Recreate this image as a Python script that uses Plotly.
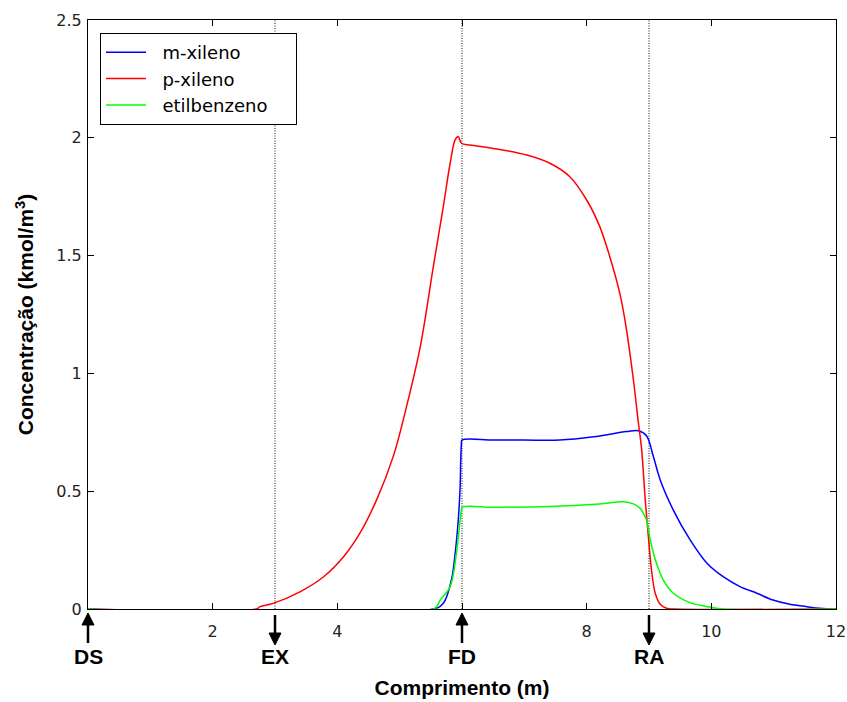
import plotly.graph_objects as go

# ---- data ----
m_x = [0, 5.54, 5.70, 5.83, 5.89, 5.94, 5.97, 5.98, 5.99, 6.0, 6.5, 7.0, 7.57, 8.11, 8.64, 8.83,
       8.96, 9.07, 9.18, 9.39, 9.66, 9.93, 10.19, 10.46, 10.73, 10.99, 11.26, 11.53, 11.74, 12]
m_y = [0, 0, 0.024, 0.123, 0.236, 0.378, 0.519, 0.632, 0.70, 0.717, 0.717, 0.717, 0.717, 0.731, 0.753, 0.757,
       0.735, 0.647, 0.548, 0.420, 0.293, 0.194, 0.137, 0.095, 0.067, 0.038, 0.020, 0.010, 0.003, 0]

p_x = [0, 2.7, 2.76, 2.97, 3.40, 3.78, 4.10, 4.36, 4.63, 4.90, 5.11, 5.33, 5.54, 5.70, 5.81, 5.89,
       5.94, 5.99, 6.13, 6.50, 7.04, 7.41, 7.73, 8.00, 8.21, 8.37, 8.54, 8.64, 8.75, 8.83, 8.88,
       8.94, 8.99, 9.04, 9.10, 9.18, 9.28, 9.40, 12]
p_y = [0, 0, 0.010, 0.024, 0.073, 0.137, 0.222, 0.321, 0.463, 0.650, 0.859, 1.113, 1.453, 1.708, 1.892, 1.991,
       2.005, 1.977, 1.969, 1.955, 1.927, 1.892, 1.835, 1.736, 1.623, 1.496, 1.330, 1.184, 0.972, 0.790, 0.682,
       0.463, 0.307, 0.166, 0.067, 0.020, 0.003, 0, 0]

e_x = [0, 5.55, 5.65, 5.81, 5.91, 5.97, 5.99, 6.0, 6.5, 7.41, 8.21, 8.59, 8.75, 8.86, 8.91, 8.96,
       9.02, 9.12, 9.23, 9.39, 9.66, 9.93, 10.19, 12]
e_y = [0, 0, 0.038, 0.095, 0.236, 0.378, 0.420, 0.432, 0.432, 0.435, 0.446, 0.455, 0.446, 0.427, 0.406, 0.378,
       0.293, 0.194, 0.123, 0.067, 0.027, 0.010, 0, 0]

series_names = ["m-xileno", "p-xileno", "etilbenzeno"]
series_colors = ["#0000FF", "#FF0000", "#00FF00"]

x_range = [0, 12]
y_range = [0, 2.5]
x_tickvals = [2, 4, 8, 10, 12]
x_minor_ticks = [0, 6]                  # unlabeled ticks (arrows sit under them)
y_tickvals = [0, 0.5, 1, 1.5, 2, 2.5]
y_ticktext = ["0", "0.5", "1", "1.5", "2", "2.5"]

port_x = [3, 6, 9]                       # dotted port lines
arrow_x = [0, 3, 6, 9]
arrow_lbl = ["DS", "EX", "FD", "RA"]
arrow_up = [True, False, True, False]

# ---- figure ----
fig = go.Figure()
NB = "\u00a0"
for xs, ys, nm, col in zip([m_x, p_x, e_x], [m_y, p_y, e_y], series_names, series_colors):
    fig.add_trace(go.Scatter(x=xs, y=ys, mode="lines", name=NB * 2 + nm + NB * 4,
                             line=dict(color=col, width=1.5, shape="spline", smoothing=1.0)))

for px in port_x:
    fig.add_shape(type="line", x0=px, x1=px, y0=0, y1=1, xref="x", yref="paper",
                  line=dict(color="#111111", width=1, dash="1px,1.5px"), layer="below")

tick_font = dict(family="DejaVu Sans", size=16, color="#222222")
lbl_font = dict(family="Liberation Sans, Arial", size=21, color="black")


def to_paper_x(v):
    return (v - x_range[0]) / (x_range[1] - x_range[0])


# arrows (pixel-sized shapes anchored at the port positions) and labels
for ax_, lb, up in zip(arrow_x, arrow_lbl, arrow_up):
    if up:
        tip, base, tail = -4, -16, -34
    else:
        tip, base, tail = -36, -24, -6
    xa = to_paper_x(ax_)
    fig.add_shape(type="line", xref="paper", yref="paper", xsizemode="pixel", ysizemode="pixel",
                  xanchor=xa, yanchor=0, x0=0, x1=0, y0=base, y1=tail,
                  line=dict(color="black", width=2.5))
    fig.add_shape(type="path", xref="paper", yref="paper", xsizemode="pixel", ysizemode="pixel",
                  xanchor=xa, yanchor=0,
                  path="M-6,%d L6,%d L0,%d Z" % (base, base, tip),
                  fillcolor="black", line=dict(color="black", width=1))
    fig.add_annotation(x=ax_, y=-47 / 589.0, xref="x", yref="paper", text="<b>%s</b>" % lb,
                       showarrow=False, yanchor="middle", xanchor="center", font=lbl_font)

fig.update_layout(
    width=847, height=702,
    margin=dict(l=88, r=11, t=20, b=93),
    paper_bgcolor="white", plot_bgcolor="white",
    showlegend=True,
    legend=dict(x=0.016, y=0.978, xanchor="left", yanchor="top",
                bordercolor="black", borderwidth=1, bgcolor="white",
                font=dict(family="DejaVu Sans", size=18, color="black"),
                tracegroupgap=0, itemwidth=40),
    xaxis=dict(range=x_range, tickvals=x_tickvals,
               showgrid=False, zeroline=False, showline=True, linecolor="black", linewidth=1,
               mirror="ticks", ticks="inside", ticklen=6, tickcolor="black",
               minor=dict(tickvals=x_minor_ticks, ticks="inside", ticklen=6, tickcolor="black", showgrid=False),
               tickfont=tick_font, ticklabelstandoff=8,
               title=dict(text="<b>Comprimento (m)</b>", font=dict(family="Liberation Sans, Arial", size=21, color="black"),
                          standoff=40)),
    yaxis=dict(range=y_range, tickvals=y_tickvals, ticktext=y_ticktext,
               showgrid=False, zeroline=False, showline=True, linecolor="black", linewidth=1,
               mirror="ticks", ticks="inside", ticklen=6, tickcolor="black",
               tickfont=tick_font, ticklabelstandoff=2,
               title=dict(text="<b>Concentração (kmol/m<sup>3</sup>)</b>",
                          font=dict(family="Liberation Sans, Arial", size=21, color="black"),
                          standoff=16)),
)
fig.update_xaxes(automargin=False)
fig.update_yaxes(automargin=False)

fig.write_html("out.html")
